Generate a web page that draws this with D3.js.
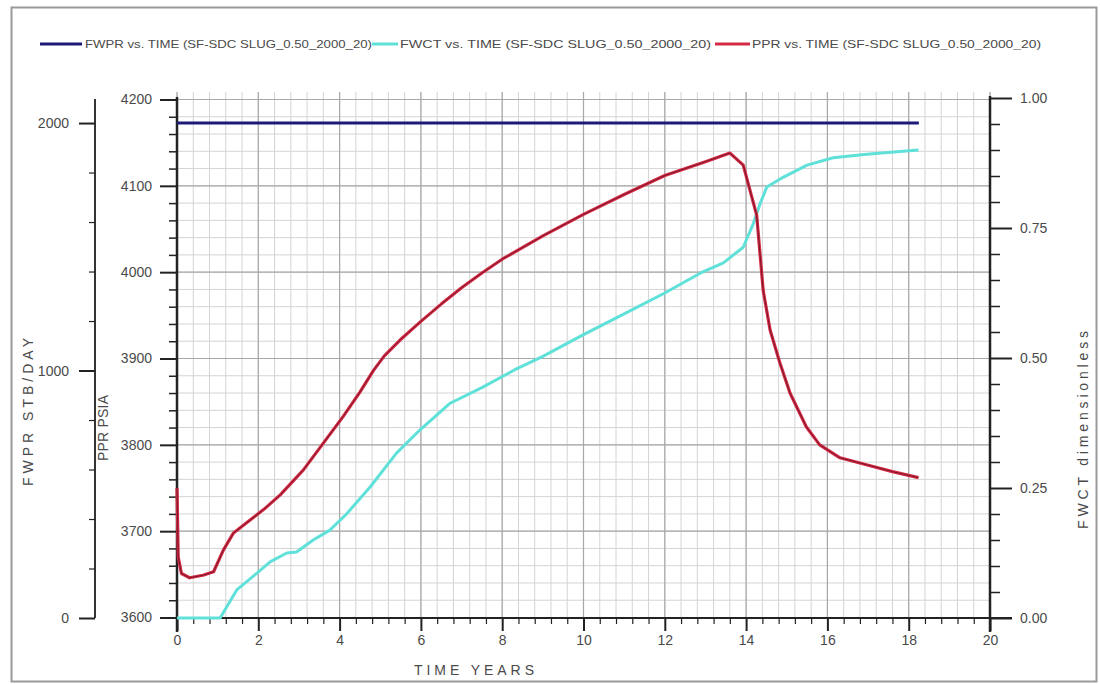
<!DOCTYPE html>
<html>
<head>
<meta charset="utf-8">
<script src="https://cdn.jsdelivr.net/npm/d3@7"></script>
<style>
  html, body { margin: 0; padding: 0; background: #fff; }
  svg { display: block; }
  text { font-family: "Liberation Sans", Arial, sans-serif; fill: #4a4a4a; }
</style>
</head>
<body>
<svg id="chart" width="1100" height="684"></svg>
<script>
// Well production history, run SF-SDC SLUG_0.50_2000_20
const caseName = "(SF-SDC SLUG_0.50_2000_20)";

// FWPR: field water production rate, STB/DAY
const fwprTime = [0, 18.25];
const fwprValues = [2000, 2000];

// FWCT: field water cut, dimensionless
const fwctTime = [0, 1.06, 1.47, 1.96, 2.29, 2.7, 2.94, 3.35, 3.76, 4.17, 4.75, 5.4, 5.98, 6.72,
  7.5, 8.3, 9, 10, 11, 12, 12.87, 13.44, 13.93, 14.18, 14.35, 14.51, 14.92, 15.5, 16.14, 16.97, 18.24];
const fwctValues = [0, 0, 0.054, 0.086, 0.108, 0.125, 0.127, 0.15, 0.169, 0.2, 0.252, 0.317, 0.362, 0.413,
  0.443, 0.477, 0.503, 0.545, 0.585, 0.625, 0.663, 0.683, 0.713, 0.759, 0.798, 0.829, 0.848, 0.871, 0.885, 0.892, 0.9];

// PPR: pressure, PSIA
const pprTime = [0, 0.03, 0.11, 0.31, 0.64, 0.9, 1.14, 1.39, 1.72, 2.13, 2.54, 3.11, 3.6, 4.09, 4.5, 4.83,
  5.1, 5.5, 6, 6.5, 7, 7.5, 8, 9, 10, 11, 12, 13, 13.6, 13.93, 14.26, 14.42, 14.59, 14.83, 15.08, 15.48,
  15.81, 16.31, 16.96, 17.6, 18.24];
const pprValues = [3750, 3670, 3651, 3646, 3649, 3653, 3678, 3698, 3710, 3725, 3742, 3771, 3802, 3833, 3861, 3886,
  3903, 3922, 3943, 3963, 3982, 3999, 4015, 4042, 4067, 4090, 4112, 4128, 4138, 4124, 4066, 3979, 3933, 3895, 3860, 3821,
  3800, 3785, 3777, 3769, 3762];

// Tick values
const timeMajor = [0, 2, 4, 6, 8, 10, 12, 14, 16, 18, 20];
const pprMajor = [3600, 3700, 3800, 3900, 4000, 4100, 4200];
const fwctMajor = [0, 0.25, 0.5, 0.75, 1.0];
const fwprMajor = [0, 1000, 2000];

const legendItems = [
  { label: "FWPR  vs.  TIME " + caseName, color: "#1d1a78", x0: 40, x1: 82, tx: 85, tw: 287 },
  { label: "FWCT  vs.  TIME " + caseName, color: "#5fe1d9", x0: 372, x1: 398, tx: 400, tw: 311 },
  { label: "PPR  vs.  TIME " + caseName, color: "#d42a45", x0: 715, x1: 750, tx: 752, tw: 289 }
];

const svg = d3.select("#chart");

// Scales
const x = d3.scaleLinear().domain([0, 20]).range([177, 990]);
const yP = d3.scaleLinear().domain([3600, 4200]).range([617.5, 99.5]);
const yF = d3.scaleLinear().domain([0, 1]).range([618, 98]);
const yW = d3.scaleLinear().domain([0, 2100]).range([618, 98.3]);

// Outer frame
svg.append("rect").attr("x", 11.5).attr("y", 7.5).attr("width", 1085).attr("height", 674)
  .attr("fill", "none").attr("stroke", "#9a9a9a").attr("stroke-width", 2);

// Grid
const grid = svg.append("g");
const vMinor = d3.range(0, 20.0001, 0.4);
grid.selectAll("line.vmin").data(vMinor).join("line")
  .attr("x1", d => x(d)).attr("x2", d => x(d))
  .attr("y1", 92).attr("y2", 618)
  .attr("stroke", "#d4d4d4").attr("stroke-width", 1);
const hMinor = d3.range(3600, 4200.001, 20);
grid.selectAll("line.hmin").data(hMinor).join("line")
  .attr("x1", 177).attr("x2", 990)
  .attr("y1", d => yP(d)).attr("y2", d => yP(d))
  .attr("stroke", "#d4d4d4").attr("stroke-width", 1);
grid.selectAll("line.vmaj").data(timeMajor).join("line")
  .attr("x1", d => x(d)).attr("x2", d => x(d))
  .attr("y1", 92).attr("y2", 618)
  .attr("stroke", "#a8a8a8").attr("stroke-width", 1.2);
grid.selectAll("line.hmaj").data(pprMajor).join("line")
  .attr("x1", 177).attr("x2", 990)
  .attr("y1", d => yP(d)).attr("y2", d => yP(d))
  .attr("stroke", "#a8a8a8").attr("stroke-width", 1.2);

// Axes
function styleAxis(g) {
  g.select(".domain").remove();
  g.selectAll(".tick line").attr("stroke", "#222").attr("stroke-width", 2);
  g.selectAll(".tick text").attr("font-size", 14).attr("fill", "#4a4a4a")
    .attr("font-family", "Liberation Sans, Arial, sans-serif");
}

// Time axis
const xAxisG = svg.append("g");
xAxisG.append("line").attr("x1", 177).attr("x2", 1012).attr("y1", 618).attr("y2", 618)
  .attr("stroke", "#222").attr("stroke-width", 2);
xAxisG.append("g").attr("transform", "translate(0,618)")
  .call(d3.axisBottom(x).tickValues(vMinor.filter(v => Math.abs(v / 2 - Math.round(v / 2)) > 1e-6))
    .tickSize(6).tickFormat(""))
  .call(styleAxis).call(g => g.selectAll(".tick line").attr("stroke-width", 1.2));
xAxisG.append("g").attr("transform", "translate(0,618)")
  .call(d3.axisBottom(x).tickValues(timeMajor).tickSize(13).tickPadding(4).tickFormat(d3.format("d")))
  .call(styleAxis);

// PPR axis (left, at plot edge)
const pAxisG = svg.append("g");
pAxisG.append("line").attr("x1", 177).attr("x2", 177).attr("y1", 97).attr("y2", 632)
  .attr("stroke", "#222").attr("stroke-width", 2.5);
pAxisG.append("g").attr("transform", "translate(177,0)")
  .call(d3.axisLeft(yP).tickValues(hMinor.filter(v => v % 100 !== 0)).tickSize(8).tickFormat(""))
  .call(styleAxis).call(g => g.selectAll(".tick line").attr("stroke-width", 1.5));
pAxisG.append("g").attr("transform", "translate(177,0)")
  .call(d3.axisLeft(yP).tickValues(pprMajor).tickSize(17).tickPadding(8).tickFormat(d3.format("d")))
  .call(styleAxis);

// FWCT axis (right)
const fAxisG = svg.append("g");
fAxisG.append("line").attr("x1", 990).attr("x2", 990).attr("y1", 96).attr("y2", 632)
  .attr("stroke", "#222").attr("stroke-width", 2.5);
fAxisG.append("g").attr("transform", "translate(990,0)")
  .call(d3.axisRight(yF).tickValues(d3.range(0.05, 1, 0.05).filter(v => Math.abs(v * 4 - Math.round(v * 4)) > 1e-6))
    .tickSize(10).tickFormat(""))
  .call(styleAxis).call(g => g.selectAll(".tick line").attr("stroke-width", 1.5));
fAxisG.append("g").attr("transform", "translate(990,0)")
  .call(d3.axisRight(yF).tickValues(fwctMajor).tickSize(22).tickPadding(8).tickFormat(d3.format(".2f")))
  .call(styleAxis);

// FWPR axis (far left)
const wAxisG = svg.append("g");
wAxisG.append("line").attr("x1", 95).attr("x2", 95).attr("y1", 99).attr("y2", 618)
  .attr("stroke", "#333").attr("stroke-width", 2);
wAxisG.append("g").attr("transform", "translate(95,0)")
  .call(d3.axisLeft(yW).tickValues(d3.range(200, 2001, 200).filter(v => v % 1000 !== 0)).tickSize(6).tickFormat(""))
  .call(styleAxis).call(g => g.selectAll(".tick line").attr("stroke-width", 1.2));
wAxisG.append("g").attr("transform", "translate(95,0)")
  .call(d3.axisLeft(yW).tickValues(fwprMajor).tickSize(16).tickPadding(10).tickFormat(d3.format("d")))
  .call(styleAxis);

// Axis titles
svg.append("text").attr("transform", "translate(474,675)").attr("text-anchor", "middle")
  .attr("font-size", 14).attr("textLength", 120).text("TIME  YEARS");
svg.append("text").attr("transform", "translate(33,412) rotate(-90)").attr("text-anchor", "middle")
  .attr("font-size", 14).attr("textLength", 148).text("FWPR  STB/DAY");
svg.append("text").attr("transform", "translate(108,428) rotate(-90)").attr("text-anchor", "middle")
  .attr("font-size", 14).attr("textLength", 66).text("PPR  PSIA");
svg.append("text").attr("transform", "translate(1088,430) rotate(-90)").attr("text-anchor", "middle")
  .attr("font-size", 14).attr("textLength", 198).text("FWCT  dimensionless");

// Series
const line = (xs, ys, yScale) => d3.line().x((d, i) => x(xs[i])).y(d => yScale(d))(ys);

svg.append("path").attr("d", line(fwprTime, fwprValues, yW))
  .attr("fill", "none").attr("stroke", "#1d1a78").attr("stroke-width", 3);

svg.append("path").attr("d", line(fwctTime, fwctValues, yF))
  .attr("fill", "none").attr("stroke", "#5fe1d9").attr("stroke-width", 3).attr("stroke-linejoin", "round");

svg.append("path").attr("d", line(pprTime, pprValues, yP))
  .attr("fill", "none").attr("stroke", "#d42a45").attr("stroke-width", 3.2).attr("stroke-linejoin", "round");
svg.append("path").attr("d", line(pprTime, pprValues, yP))
  .attr("fill", "none").attr("stroke", "#7a1828").attr("stroke-width", 1).attr("stroke-linejoin", "round");

// Legend
const lg = svg.append("g");
legendItems.forEach(it => {
  lg.append("line").attr("x1", it.x0).attr("x2", it.x1).attr("y1", 44).attr("y2", 44)
    .attr("stroke", it.color).attr("stroke-width", 3);
  lg.append("text").attr("x", it.tx).attr("y", 48).attr("font-size", 11)
    .attr("textLength", it.tw).attr("lengthAdjust", "spacingAndGlyphs").attr("fill", "#555").text(it.label);
});
</script>
</body>
</html>
